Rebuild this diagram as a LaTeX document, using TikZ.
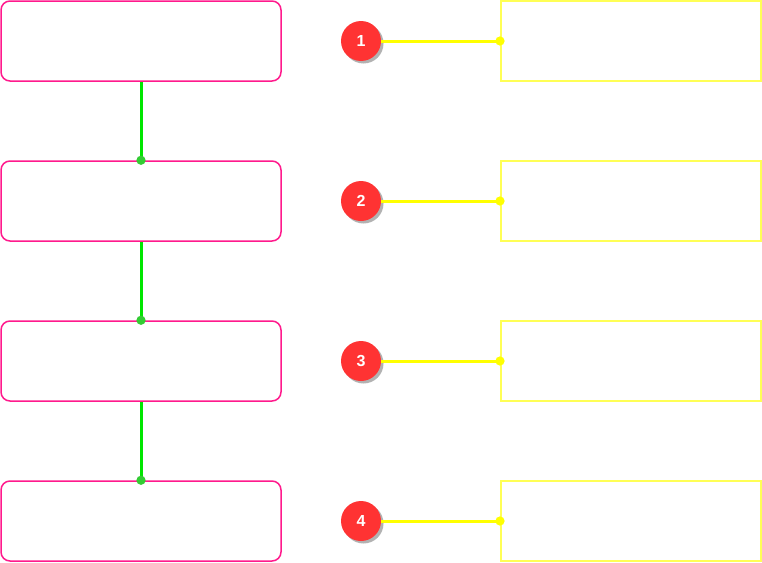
\documentclass[tikz,border=0pt]{standalone}
\usepackage{fontspec}
\setmainfont{Liberation Sans}
\usetikzlibrary{arrows.meta,shadows}
\definecolor{boxpink}{HTML}{FF1A8C}
\definecolor{linkgreen}{HTML}{00E600}
\definecolor{dotgreen}{HTML}{33CC33}
\definecolor{badgered}{HTML}{FF3333}
\definecolor{linkyellow}{HTML}{FFFF00}
\definecolor{boxyellow}{HTML}{FFFF55}
\begin{document}
\begin{tikzpicture}[x=1pt, y=-1pt,
    stepbox/.style={rectangle, draw=boxpink, line width=1.5pt, rounded corners=9pt, minimum width=280pt, minimum height=80pt, inner sep=0pt},
    notebox/.style={rectangle, draw=boxyellow, line width=2pt, minimum width=260pt, minimum height=80pt, inner sep=0pt},
    badge/.style={circle, fill=badgered, minimum size=40pt, inner sep=0pt, text=white, font=\bfseries\fontsize{16}{16}\selectfont, drop shadow={shadow xshift=2.5pt, shadow yshift=-2.5pt, fill=black!30, opacity=1}},
    flow/.style={draw=linkgreen, line width=3pt, -{Circle[length=9pt, fill=dotgreen, color=dotgreen]}, shorten >=-4.5pt},
    pin/.style={draw=linkyellow, line width=3pt, -{Circle[length=9pt]}, shorten >=-4.5pt}]
        \useasboundingbox (0,0) rectangle (762,562);
        \node[stepbox] (s1) at (141,41) {};
        \node[stepbox] (s2) at (141,201) {};
        \node[stepbox] (s3) at (141,361) {};
        \node[stepbox] (s4) at (141,521) {};
        \node[badge] (b1) at (361,41) {1};
        \node[badge] (b2) at (361,201) {2};
        \node[badge] (b3) at (361,361) {3};
        \node[badge] (b4) at (361,521) {4};
        \node[notebox] (t1) at (631,41) {};
        \node[notebox] (t2) at (631,201) {};
        \node[notebox] (t3) at (631,361) {};
        \node[notebox] (t4) at (631,521) {};
        % Add step links
        \draw[flow] (s1) -- (s2);
        \draw[flow] (s2) -- (s3);
        \draw[flow] (s3) -- (s4);
        % Add badge links
        \draw[pin] (b1) -- (t1);
        \draw[pin] (b2) -- (t2);
        \draw[pin] (b3) -- (t3);
        \draw[pin] (b4) -- (t4);
    \end{tikzpicture}
\end{document}
